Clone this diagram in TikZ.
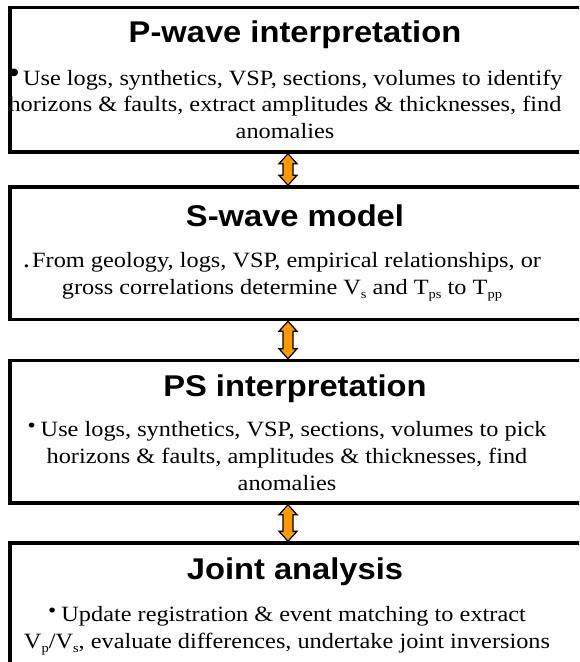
\documentclass[tikz,border=0pt]{standalone}
\usepackage{fontspec}
\setmainfont{Liberation Serif}
\newfontfamily\titlefont[FakeStretch=1.09]{Liberation Sans Bold}
\newfontfamily\bodyfont[FakeStretch=1.115]{Liberation Serif}
\usetikzlibrary{calc}
\definecolor{arroworange}{HTML}{FF9900}
\tikzset{
  panel/.style={draw=black, line width=3.5pt, inner sep=0pt, anchor=north west, minimum width=640pt},
  titletext/.style={font=\titlefont\fontsize{30}{30}\selectfont, anchor=base, inner sep=0pt},
  bodytext/.style={font=\bodyfont\fontsize{21.8}{26.6}\selectfont, align=center, anchor=base, inner sep=0pt},
  linkarrow/.style={draw=black, fill=arroworange, line width=1.2pt, line join=miter},
}
\newcommand\sub[1]{\raisebox{-0.2em}{\fontsize{13}{13}\selectfont #1}}
\newcommand\bigbul{\raisebox{0.1em}{\fontsize{32}{32}\selectfont •}\hspace{3pt}}
\newcommand\smallbul{\raisebox{0.2em}{\fontsize{21}{21}\selectfont •}\hspace{5pt}}
\newcommand\dotbul{{\fontsize{26}{26}\selectfont .}\hspace{2pt}}
\newcommand\dblarrow[3]{%
  \draw[linkarrow] let \p1=(#1.south -| #3), \p2=(#2.north -| #3) in
    (\x1,\y1) -- (\x1+9pt,\y1-10pt) -- (\x1+5pt,\y1-10pt) -- (\x1+5pt,\y2+10pt)
    -- (\x1+9pt,\y2+10pt) -- (\x1,\y2) -- (\x1-9pt,\y2+10pt) -- (\x1-5pt,\y2+10pt)
    -- (\x1-5pt,\y1-10pt) -- (\x1-9pt,\y1-10pt) -- cycle;}
\begin{document}
\begin{tikzpicture}[x=1pt,y=-1pt]
\useasboundingbox (0,0) rectangle (579,662);
\clip (0,0) rectangle (579,662);
\fill[white] (0,0) rectangle (579,662);
\coordinate (ax) at (288,0);

\node[panel, minimum height=144.5pt] (b1) at (8.25,5.75) {};
\node[panel, minimum height=132.5pt] (b2) at (8.25,185.25) {};
\node[panel, minimum height=142.5pt] (b3) at (8.25,358.75) {};
\node[panel, minimum height=160pt] (b4) at (8.25,541.25) {};

\node[titletext] (t1) at (295,42) {P-wave interpretation};
\node[bodytext] (d1) at (285,138.5) {\bigbul Use logs, synthetics, VSP, sections, volumes to identify\\
horizons \& faults, extract amplitudes \& thicknesses, find\\ anomalies};

\node[titletext] (t2) at (295,226) {S-wave model};
\node[bodytext] (d2) at (282,294) {\dotbul From geology, logs, VSP, empirical relationships, or\\
gross correlations determine V\sub{s} and T\sub{ps} to T\sub{pp}};

\node[titletext] (t3) at (295,396) {PS interpretation};
\node[bodytext] (d3) at (287,490) {\smallbul Use logs, synthetics, VSP, sections, volumes to pick\\
horizons \& faults, amplitudes \& thicknesses, find\\ anomalies};

\node[titletext] (t4) at (295,579) {Joint analysis};
\node[bodytext] (d4) at (287,648) {\smallbul Update registration \& event matching to extract\\
V\sub{p}/V\sub{s}, evaluate differences, undertake joint inversions};

\dblarrow{b1}{b2}{ax}
\dblarrow{b2}{b3}{ax}
\dblarrow{b3}{b4}{ax}
\end{tikzpicture}
\end{document}
